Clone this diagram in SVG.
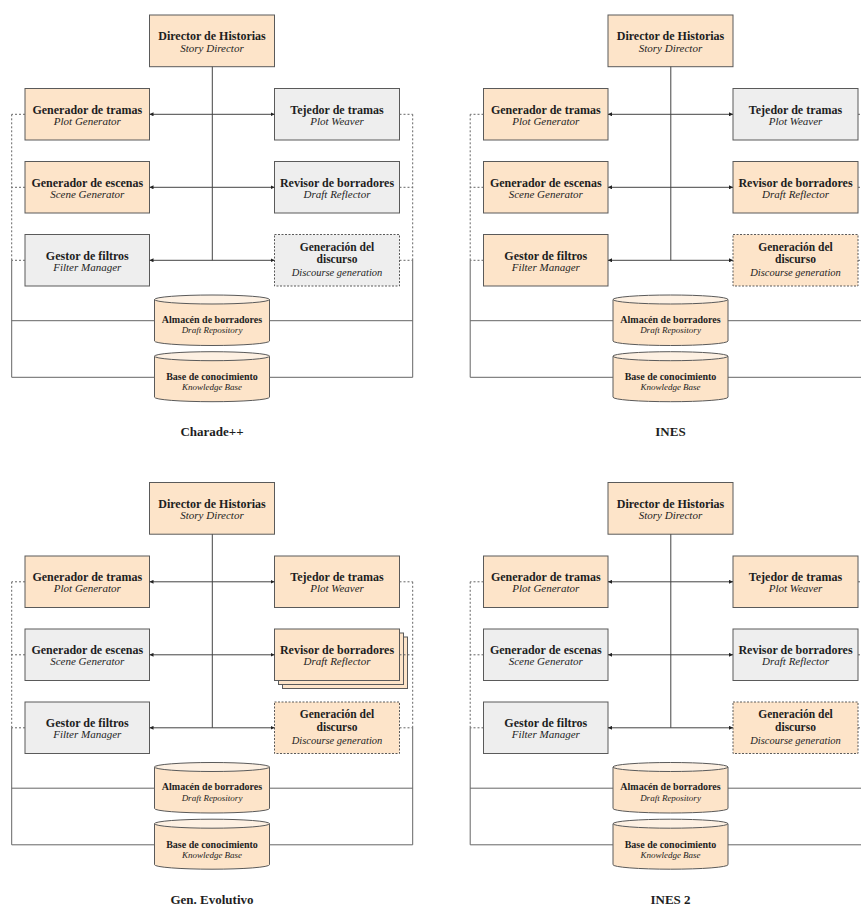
<svg xmlns="http://www.w3.org/2000/svg" width="861" height="909" viewBox="0 0 861 909">
  <style>
    text { font-family: "Liberation Serif", "Times New Roman", serif; fill: #1e1e1e; text-anchor: middle; }
    .t1 { font-size: 12px; font-weight: bold; }
    .t2 { font-size: 11px; font-style: italic; }
    .t1s { font-size: 11.5px; font-weight: bold; }
    .t2s { font-size: 10.5px; font-style: italic; }
    .c1 { font-size: 10px; font-weight: bold; }
    .c2 { font-size: 9px; font-style: italic; }
    .ttl { font-size: 13px; font-weight: bold; }
    .box { stroke: #5a5a5a; stroke-width: 1; }
    .o { fill: #fde4c9; }
    .g { fill: #eeeeee; }
    .dsh { stroke-dasharray: 2 1.5; }
    .cyl { fill: #fde4c9; stroke: #5a5a5a; stroke-width: 1; }
    .cyltop { fill: #fdf0e2; stroke: #5a5a5a; stroke-width: 1; }
    .arr { stroke: #444; stroke-width: 1; fill: none; }
    .link { stroke: #666; stroke-width: 1; fill: none; stroke-dasharray: 2 2; }
    .bus { stroke: #666; stroke-width: 1; fill: none; }
  </style>
  <defs>
    <marker id="tip" viewBox="0 0 6 6" refX="6" refY="3" markerWidth="4" markerHeight="4" markerUnits="userSpaceOnUse" orient="auto-start-reverse">
      <path d="M0,0 L6,3 L0,6 z" fill="#222"/>
    </marker>
    <!-- connector set shared by every panel -->
    <g id="wires">
      <line class="arr" x1="212.3" y1="66.7" x2="212.3" y2="260.3"/>
      <line class="arr" x1="149.5" y1="114.3" x2="274.5" y2="114.3" marker-start="url(#tip)" marker-end="url(#tip)"/>
      <line class="arr" x1="149.5" y1="187.3" x2="274.5" y2="187.3" marker-start="url(#tip)" marker-end="url(#tip)"/>
      <line class="arr" x1="149.5" y1="260.3" x2="274.5" y2="260.3" marker-start="url(#tip)" marker-end="url(#tip)"/>
      <!-- left bus -->
      <path class="link" d="M25,114.3 H11.7 M25,187.3 H11.7 M25,260.3 H11.7 M11.7,114.3 V260.3"/>
      <path class="bus" d="M11.7,260.3 V377.3 M11.7,320.7 H154.5 M11.7,377.3 H154.5"/>
      <!-- right bus -->
      <path class="link" d="M399.5,114.3 H412.7 M399.5,187.3 H412.7 M399.5,260.3 H412.7 M412.7,114.3 V260.3"/>
      <path class="bus" d="M412.7,260.3 V377.3 M269.5,320.7 H412.7 M269.5,377.3 H412.7"/>
    </g>
  </defs>

  <!-- Panel 1: Charade++ -->
  <g id="panel-charade">
    <g id="p1-director"><rect class="box o" x="149.5" y="15" width="125" height="51.7"/><text class="t1" x="212" y="40">Director de Historias</text><text class="t2" x="212" y="51.5">Story Director</text></g>
    <g id="p1-plotgen"><rect class="box o" x="25" y="88.5" width="124.5" height="51.5"/><text class="t1" x="87.3" y="113.5">Generador de tramas</text><text class="t2" x="87.3" y="124.8">Plot Generator</text></g>
    <g id="p1-scenegen"><rect class="box o" x="25" y="161.5" width="124.5" height="51.5"/><text class="t1" x="87.3" y="186.5">Generador de escenas</text><text class="t2" x="87.3" y="197.8">Scene Generator</text></g>
    <g id="p1-filter"><rect class="box g" x="25" y="234.5" width="124.5" height="51.5"/><text class="t1" x="87.3" y="259.5">Gestor de filtros</text><text class="t2" x="87.3" y="270.8">Filter Manager</text></g>
    <g id="p1-weaver"><rect class="box g" x="274.5" y="88.5" width="125" height="51.5"/><text class="t1" x="337" y="113.5">Tejedor de tramas</text><text class="t2" x="337" y="124.8">Plot Weaver</text></g>
    <g id="p1-reflector"><rect class="box g" x="274.5" y="161.5" width="125" height="51.5"/><text class="t1" x="337" y="186.5">Revisor de borradores</text><text class="t2" x="337" y="197.8">Draft Reflector</text></g>
    <g id="p1-discourse"><rect class="box g dsh" x="274.5" y="234.5" width="125" height="51.5"/><text class="t1s" x="337" y="250.8">Generación del</text><text class="t1s" x="337" y="263.4">discurso</text><text class="t2s" x="337" y="276">Discourse generation</text></g>
    <g id="p1-drafts"><path class="cyl" d="M154.5,299.5 V341 A57.5,4.5 0 0 0 269.5,341 V299.5 Z"/><ellipse class="cyltop" cx="212" cy="299.5" rx="57.5" ry="4.5"/><text class="c1" x="212" y="322.7">Almacén de borradores</text><text class="c2" x="212" y="333">Draft Repository</text></g>
    <g id="p1-knowledge"><path class="cyl" d="M154.5,356.2 V397.2 A57.5,4.5 0 0 0 269.5,397.2 V356.2 Z"/><ellipse class="cyltop" cx="212" cy="356.2" rx="57.5" ry="4.5"/><text class="c1" x="212" y="380">Base de conocimiento</text><text class="c2" x="212" y="390">Knowledge Base</text></g>
    <g id="p1-connectors"><use href="#wires"/></g>
    <text class="ttl" x="212" y="436">Charade++</text>
  </g>

  <!-- Panel 2: INES -->
  <g id="panel-ines" transform="translate(458.5,0)">
    <g id="p2-director"><rect class="box o" x="149.5" y="15" width="125" height="51.7"/><text class="t1" x="212" y="40">Director de Historias</text><text class="t2" x="212" y="51.5">Story Director</text></g>
    <g id="p2-plotgen"><rect class="box o" x="25" y="88.5" width="124.5" height="51.5"/><text class="t1" x="87.3" y="113.5">Generador de tramas</text><text class="t2" x="87.3" y="124.8">Plot Generator</text></g>
    <g id="p2-scenegen"><rect class="box o" x="25" y="161.5" width="124.5" height="51.5"/><text class="t1" x="87.3" y="186.5">Generador de escenas</text><text class="t2" x="87.3" y="197.8">Scene Generator</text></g>
    <g id="p2-filter"><rect class="box o" x="25" y="234.5" width="124.5" height="51.5"/><text class="t1" x="87.3" y="259.5">Gestor de filtros</text><text class="t2" x="87.3" y="270.8">Filter Manager</text></g>
    <g id="p2-weaver"><rect class="box g" x="274.5" y="88.5" width="125" height="51.5"/><text class="t1" x="337" y="113.5">Tejedor de tramas</text><text class="t2" x="337" y="124.8">Plot Weaver</text></g>
    <g id="p2-reflector"><rect class="box o" x="274.5" y="161.5" width="125" height="51.5"/><text class="t1" x="337" y="186.5">Revisor de borradores</text><text class="t2" x="337" y="197.8">Draft Reflector</text></g>
    <g id="p2-discourse"><rect class="box o dsh" x="274.5" y="234.5" width="125" height="51.5"/><text class="t1s" x="337" y="250.8">Generación del</text><text class="t1s" x="337" y="263.4">discurso</text><text class="t2s" x="337" y="276">Discourse generation</text></g>
    <g id="p2-drafts"><path class="cyl" d="M154.5,299.5 V341 A57.5,4.5 0 0 0 269.5,341 V299.5 Z"/><ellipse class="cyltop" cx="212" cy="299.5" rx="57.5" ry="4.5"/><text class="c1" x="212" y="322.7">Almacén de borradores</text><text class="c2" x="212" y="333">Draft Repository</text></g>
    <g id="p2-knowledge"><path class="cyl" d="M154.5,356.2 V397.2 A57.5,4.5 0 0 0 269.5,397.2 V356.2 Z"/><ellipse class="cyltop" cx="212" cy="356.2" rx="57.5" ry="4.5"/><text class="c1" x="212" y="380">Base de conocimiento</text><text class="c2" x="212" y="390">Knowledge Base</text></g>
    <g id="p2-connectors"><use href="#wires"/></g>
    <text class="ttl" x="212" y="436">INES</text>
  </g>

  <!-- Panel 3: Gen. Evolutivo -->
  <g id="panel-evolutivo" transform="translate(0,467.5)">
    <g id="p3-director"><rect class="box o" x="149.5" y="15" width="125" height="51.7"/><text class="t1" x="212" y="40">Director de Historias</text><text class="t2" x="212" y="51.5">Story Director</text></g>
    <g id="p3-plotgen"><rect class="box o" x="25" y="88.5" width="124.5" height="51.5"/><text class="t1" x="87.3" y="113.5">Generador de tramas</text><text class="t2" x="87.3" y="124.8">Plot Generator</text></g>
    <g id="p3-scenegen"><rect class="box g" x="25" y="161.5" width="124.5" height="51.5"/><text class="t1" x="87.3" y="186.5">Generador de escenas</text><text class="t2" x="87.3" y="197.8">Scene Generator</text></g>
    <g id="p3-filter"><rect class="box g" x="25" y="234.5" width="124.5" height="51.5"/><text class="t1" x="87.3" y="259.5">Gestor de filtros</text><text class="t2" x="87.3" y="270.8">Filter Manager</text></g>
    <g id="p3-weaver"><rect class="box o" x="274.5" y="88.5" width="125" height="51.5"/><text class="t1" x="337" y="113.5">Tejedor de tramas</text><text class="t2" x="337" y="124.8">Plot Weaver</text></g>
    <g id="p3-reflector">
      <!-- several reflector instances, stacked -->
      <rect class="box o" x="282.5" y="169.5" width="125" height="51.5"/>
      <rect class="box o" x="278.5" y="165.5" width="125" height="51.5"/>
      <rect class="box o" x="274.5" y="161.5" width="125" height="51.5"/>
      <text class="t1" x="337" y="186.5">Revisor de borradores</text><text class="t2" x="337" y="197.8">Draft Reflector</text>
    </g>
    <g id="p3-discourse"><rect class="box o dsh" x="274.5" y="234.5" width="125" height="51.5"/><text class="t1s" x="337" y="250.8">Generación del</text><text class="t1s" x="337" y="263.4">discurso</text><text class="t2s" x="337" y="276">Discourse generation</text></g>
    <g id="p3-drafts"><path class="cyl" d="M154.5,299.5 V341 A57.5,4.5 0 0 0 269.5,341 V299.5 Z"/><ellipse class="cyltop" cx="212" cy="299.5" rx="57.5" ry="4.5"/><text class="c1" x="212" y="322.7">Almacén de borradores</text><text class="c2" x="212" y="333">Draft Repository</text></g>
    <g id="p3-knowledge"><path class="cyl" d="M154.5,356.2 V397.2 A57.5,4.5 0 0 0 269.5,397.2 V356.2 Z"/><ellipse class="cyltop" cx="212" cy="356.2" rx="57.5" ry="4.5"/><text class="c1" x="212" y="380">Base de conocimiento</text><text class="c2" x="212" y="390">Knowledge Base</text></g>
    <g id="p3-connectors"><use href="#wires"/></g>
    <text class="ttl" x="212" y="436">Gen. Evolutivo</text>
  </g>

  <!-- Panel 4: INES 2 -->
  <g id="panel-ines2" transform="translate(458.5,467.5)">
    <g id="p4-director"><rect class="box o" x="149.5" y="15" width="125" height="51.7"/><text class="t1" x="212" y="40">Director de Historias</text><text class="t2" x="212" y="51.5">Story Director</text></g>
    <g id="p4-plotgen"><rect class="box o" x="25" y="88.5" width="124.5" height="51.5"/><text class="t1" x="87.3" y="113.5">Generador de tramas</text><text class="t2" x="87.3" y="124.8">Plot Generator</text></g>
    <g id="p4-scenegen"><rect class="box g" x="25" y="161.5" width="124.5" height="51.5"/><text class="t1" x="87.3" y="186.5">Generador de escenas</text><text class="t2" x="87.3" y="197.8">Scene Generator</text></g>
    <g id="p4-filter"><rect class="box g" x="25" y="234.5" width="124.5" height="51.5"/><text class="t1" x="87.3" y="259.5">Gestor de filtros</text><text class="t2" x="87.3" y="270.8">Filter Manager</text></g>
    <g id="p4-weaver"><rect class="box o" x="274.5" y="88.5" width="125" height="51.5"/><text class="t1" x="337" y="113.5">Tejedor de tramas</text><text class="t2" x="337" y="124.8">Plot Weaver</text></g>
    <g id="p4-reflector"><rect class="box g" x="274.5" y="161.5" width="125" height="51.5"/><text class="t1" x="337" y="186.5">Revisor de borradores</text><text class="t2" x="337" y="197.8">Draft Reflector</text></g>
    <g id="p4-discourse"><rect class="box o dsh" x="274.5" y="234.5" width="125" height="51.5"/><text class="t1s" x="337" y="250.8">Generación del</text><text class="t1s" x="337" y="263.4">discurso</text><text class="t2s" x="337" y="276">Discourse generation</text></g>
    <g id="p4-drafts"><path class="cyl" d="M154.5,299.5 V341 A57.5,4.5 0 0 0 269.5,341 V299.5 Z"/><ellipse class="cyltop" cx="212" cy="299.5" rx="57.5" ry="4.5"/><text class="c1" x="212" y="322.7">Almacén de borradores</text><text class="c2" x="212" y="333">Draft Repository</text></g>
    <g id="p4-knowledge"><path class="cyl" d="M154.5,356.2 V397.2 A57.5,4.5 0 0 0 269.5,397.2 V356.2 Z"/><ellipse class="cyltop" cx="212" cy="356.2" rx="57.5" ry="4.5"/><text class="c1" x="212" y="380">Base de conocimiento</text><text class="c2" x="212" y="390">Knowledge Base</text></g>
    <g id="p4-connectors"><use href="#wires"/></g>
    <text class="ttl" x="212" y="436">INES 2</text>
  </g>
</svg>
